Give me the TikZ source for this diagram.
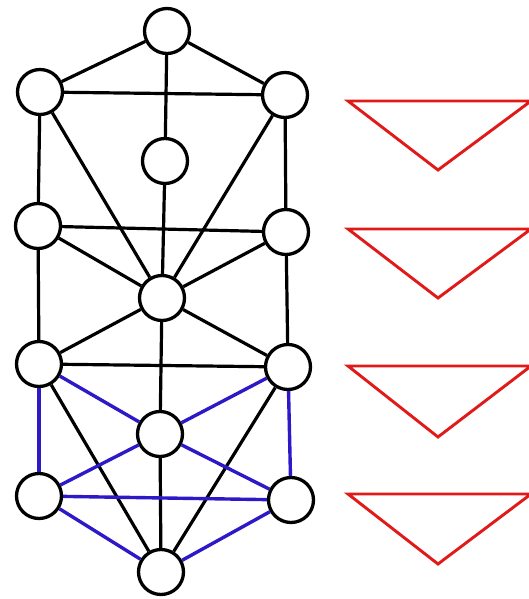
\documentclass[tikz,border=0pt]{standalone}
\definecolor{edgeblue}{RGB}{45,25,200}
\definecolor{trired}{RGB}{225,25,25}
\begin{document}
\begin{tikzpicture}[x=1pt,y=-1pt,
  vert/.style={circle,draw=black,fill=white,line width=3.3pt,minimum size=45pt,inner sep=0pt},
  bk/.style={draw=black,line width=3.2pt},
  bl/.style={draw=edgeblue,line width=3.4pt},
  tri/.style={draw=trired,line width=2.9pt,line join=miter}]
\useasboundingbox (0,0) rectangle (529,599);
\clip (0,0) rectangle (529,599);
\node[vert] (t) at (167,31) {};
\node[vert] (lu) at (40,92) {};
\node[vert] (ru) at (285,95) {};
\node[vert] (s) at (165,161) {};
\node[vert] (l2) at (38,226) {};
\node[vert] (r2) at (286,232) {};
\node[vert] (c) at (162,298) {};
\node[vert] (l3) at (39,364) {};
\node[vert] (r3) at (288,367) {};
\node[vert] (lc) at (160,434) {};
\node[vert] (l4) at (39,496) {};
\node[vert] (r4) at (291,500) {};
\node[vert] (b) at (161,572) {};
% black edges
\draw[bk] (t) -- (lu); \draw[bk] (t) -- (ru); \draw[bk] (t) -- (s);
\draw[bk] (lu) -- (ru);
\draw[bk] (lu) -- (l2); \draw[bk] (ru) -- (r2);
\draw[bk] (lu) -- (c); \draw[bk] (ru) -- (c);
\draw[bk] (s) -- (c);
\draw[bk] (l2) -- (r2); \draw[bk] (l2) -- (c); \draw[bk] (r2) -- (c);
\draw[bk] (l2) -- (l3); \draw[bk] (r2) -- (r3);
\draw[bk] (c) -- (l3); \draw[bk] (c) -- (r3); \draw[bk] (c) -- (lc);
\draw[bk] (l3) -- (r3);
\draw[bk] (l3) -- (b); \draw[bk] (r3) -- (b); \draw[bk] (lc) -- (b);
% blue edges
\draw[bl] (l3) -- (lc); \draw[bl] (r3) -- (lc);
\draw[bl] (l3) -- (l4); \draw[bl] (r3) -- (r4);
\draw[bl] (l4) -- (lc); \draw[bl] (r4) -- (lc);
\draw[bl] (l4) -- (r4);
\draw[bl] (l4) -- (b); \draw[bl] (r4) -- (b);
% red triangles
\draw[tri] (348,101) -- (531,101) -- (438,170) -- cycle;
\draw[tri] (348,229) -- (531,229) -- (438,298) -- cycle;
\draw[tri] (348,366) -- (531,366) -- (438,437) -- cycle;
\draw[tri] (348,494) -- (531,494) -- (438,564) -- cycle;
\end{tikzpicture}
\end{document}
